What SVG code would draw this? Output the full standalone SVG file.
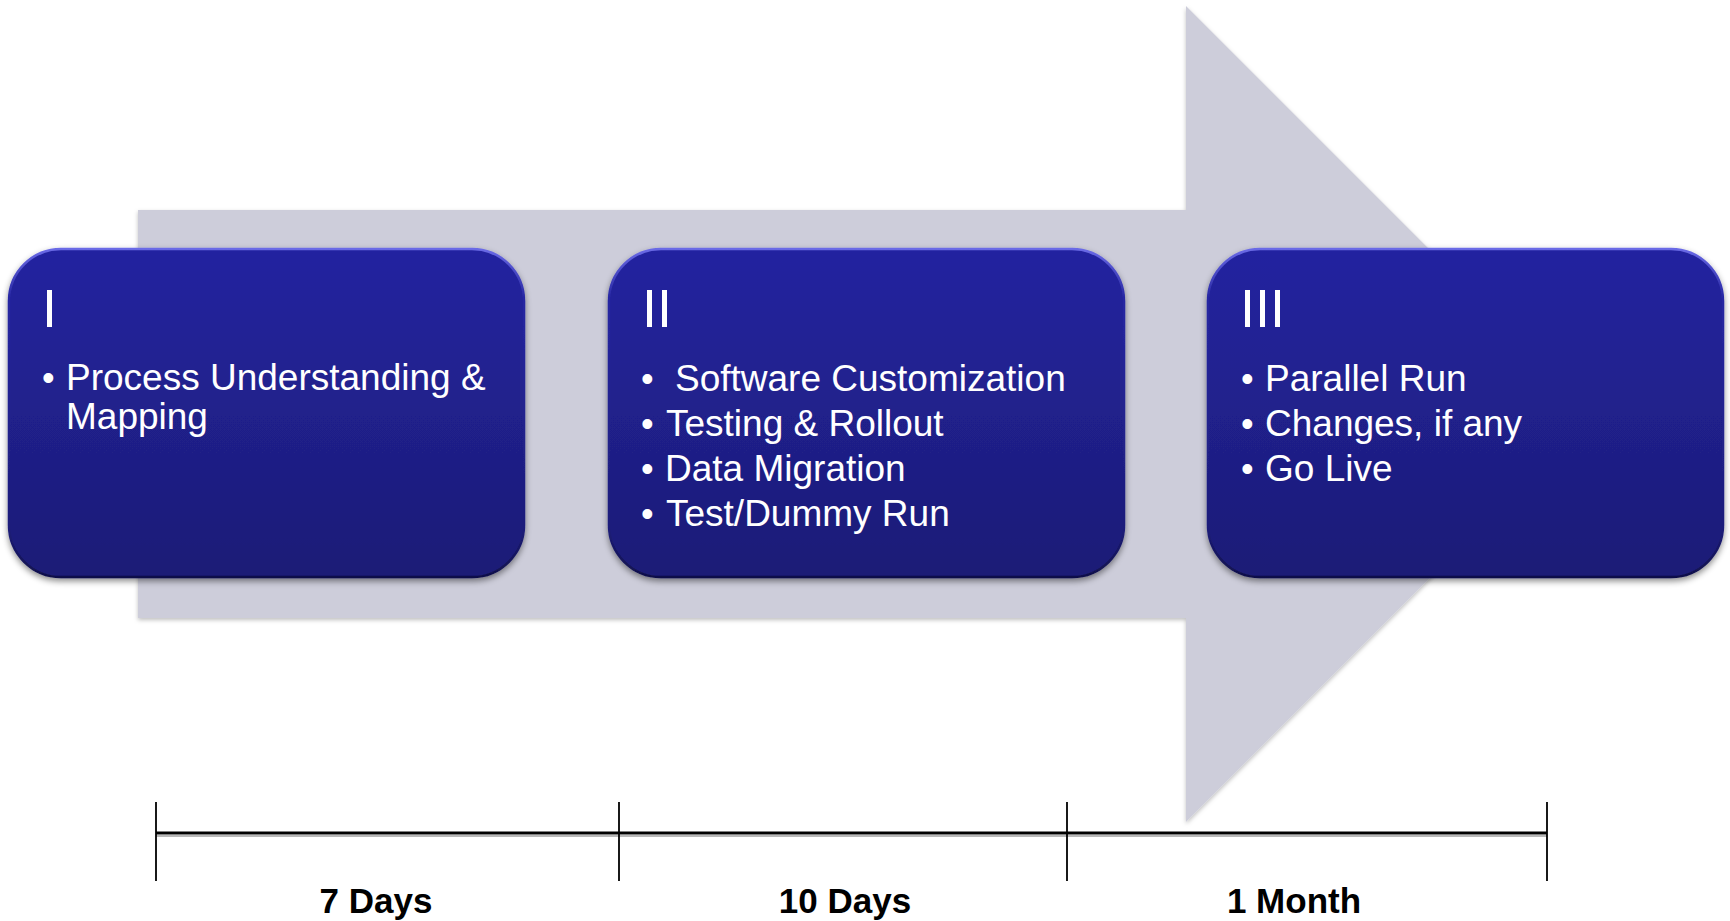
<svg xmlns="http://www.w3.org/2000/svg" width="1730" height="921" viewBox="0 0 1730 921">
  <defs>
    <linearGradient id="boxFill" x1="0" y1="0" x2="0" y2="1">
      <stop offset="0" stop-color="#2424a0"/>
      <stop offset="1" stop-color="#1c1c76"/>
    </linearGradient>
    <linearGradient id="boxEdge" x1="0" y1="0" x2="0" y2="1">
      <stop offset="0" stop-color="#6a6ae6"/>
      <stop offset="0.15" stop-color="#2626a2"/>
      <stop offset="0.85" stop-color="#1d1d7a"/>
      <stop offset="1" stop-color="#10104a"/>
    </linearGradient>
    <filter id="boxShadow" x="-5%" y="-5%" width="110%" height="115%">
      <feDropShadow dx="0" dy="3" stdDeviation="3" flood-color="#000000" flood-opacity="0.45"/>
    </filter>
    <filter id="arrowShadow" x="-5%" y="-5%" width="110%" height="110%">
      <feDropShadow dx="0" dy="2" stdDeviation="2" flood-color="#000000" flood-opacity="0.25"/>
    </filter>
  </defs>
  <style>
    .box { fill: url(#boxFill); stroke: url(#boxEdge); stroke-width: 2.5; filter: url(#boxShadow); }
    .num { font-family: "Liberation Sans", Arial, sans-serif; font-size: 54px; fill: #ffffff; }
    .item { font-family: "Liberation Sans", Arial, sans-serif; font-size: 37px; fill: #ffffff; }
    .bullet { font-family: "Liberation Sans", Arial, sans-serif; font-size: 36px; fill: #ffffff; }
    .axis { stroke: #000000; stroke-width: 3; fill: none; }
    .axis-shadow { stroke: #9a9a9a; stroke-width: 2; fill: none; opacity: 0.7; }
    .tick { stroke: #000000; stroke-width: 1.8; fill: none; }
    .dur { font-family: "Liberation Sans", Arial, sans-serif; font-size: 35px; font-weight: bold; fill: #000000; text-anchor: middle; }
  </style>

  <g id="big-arrow">
    <polygon points="138,210 1186,210 1186,6 1594,414 1186,822 1186,618 138,618" fill="#cdcdda" filter="url(#arrowShadow)"/>
  </g>

  <g id="phase-1">
    <rect class="box" x="9" y="249" width="515" height="328" rx="52" ry="52"/>
    <text class="num" x="42" y="327">I</text>
    <text class="bullet" x="42" y="390">•</text>
    <text class="item" x="66" y="390">Process Understanding &amp;</text>
    <text class="item" x="66" y="429">Mapping</text>
  </g>

  <g id="phase-2">
    <rect class="box" x="609" y="249" width="515" height="328" rx="52" ry="52"/>
    <text class="num" x="642" y="327">II</text>
    <text class="bullet" x="641" y="391">•</text>
    <text class="item" x="675" y="391">Software Customization</text>
    <text class="bullet" x="641" y="436">•</text>
    <text class="item" x="666" y="436">Testing &amp; Rollout</text>
    <text class="bullet" x="641" y="481">•</text>
    <text class="item" x="665" y="481">Data Migration</text>
    <text class="bullet" x="641" y="526">•</text>
    <text class="item" x="666" y="526">Test/Dummy Run</text>
  </g>

  <g id="phase-3">
    <rect class="box" x="1208" y="249" width="515" height="328" rx="52" ry="52"/>
    <text class="num" x="1240" y="327">III</text>
    <text class="bullet" x="1241" y="391">•</text>
    <text class="item" x="1265" y="391">Parallel Run</text>
    <text class="bullet" x="1241" y="436">•</text>
    <text class="item" x="1265" y="436">Changes, if any</text>
    <text class="bullet" x="1241" y="481">•</text>
    <text class="item" x="1265" y="481">Go Live</text>
  </g>

  <g id="connectors">
    <line class="axis-shadow" x1="156" y1="836" x2="1547" y2="836"/>
    <line class="axis" x1="156" y1="833" x2="1547" y2="833"/>
    <line class="tick" x1="156" y1="802" x2="156" y2="881"/>
    <line class="tick" x1="619" y1="802" x2="619" y2="881"/>
    <line class="tick" x1="1067" y1="802" x2="1067" y2="881"/>
    <line class="tick" x1="1547" y1="802" x2="1547" y2="881"/>
  </g>

  <g id="durations">
    <text class="dur" x="376" y="913">7 Days</text>
    <text class="dur" x="845" y="913">10 Days</text>
    <text class="dur" x="1294" y="913">1 Month</text>
  </g>
</svg>
